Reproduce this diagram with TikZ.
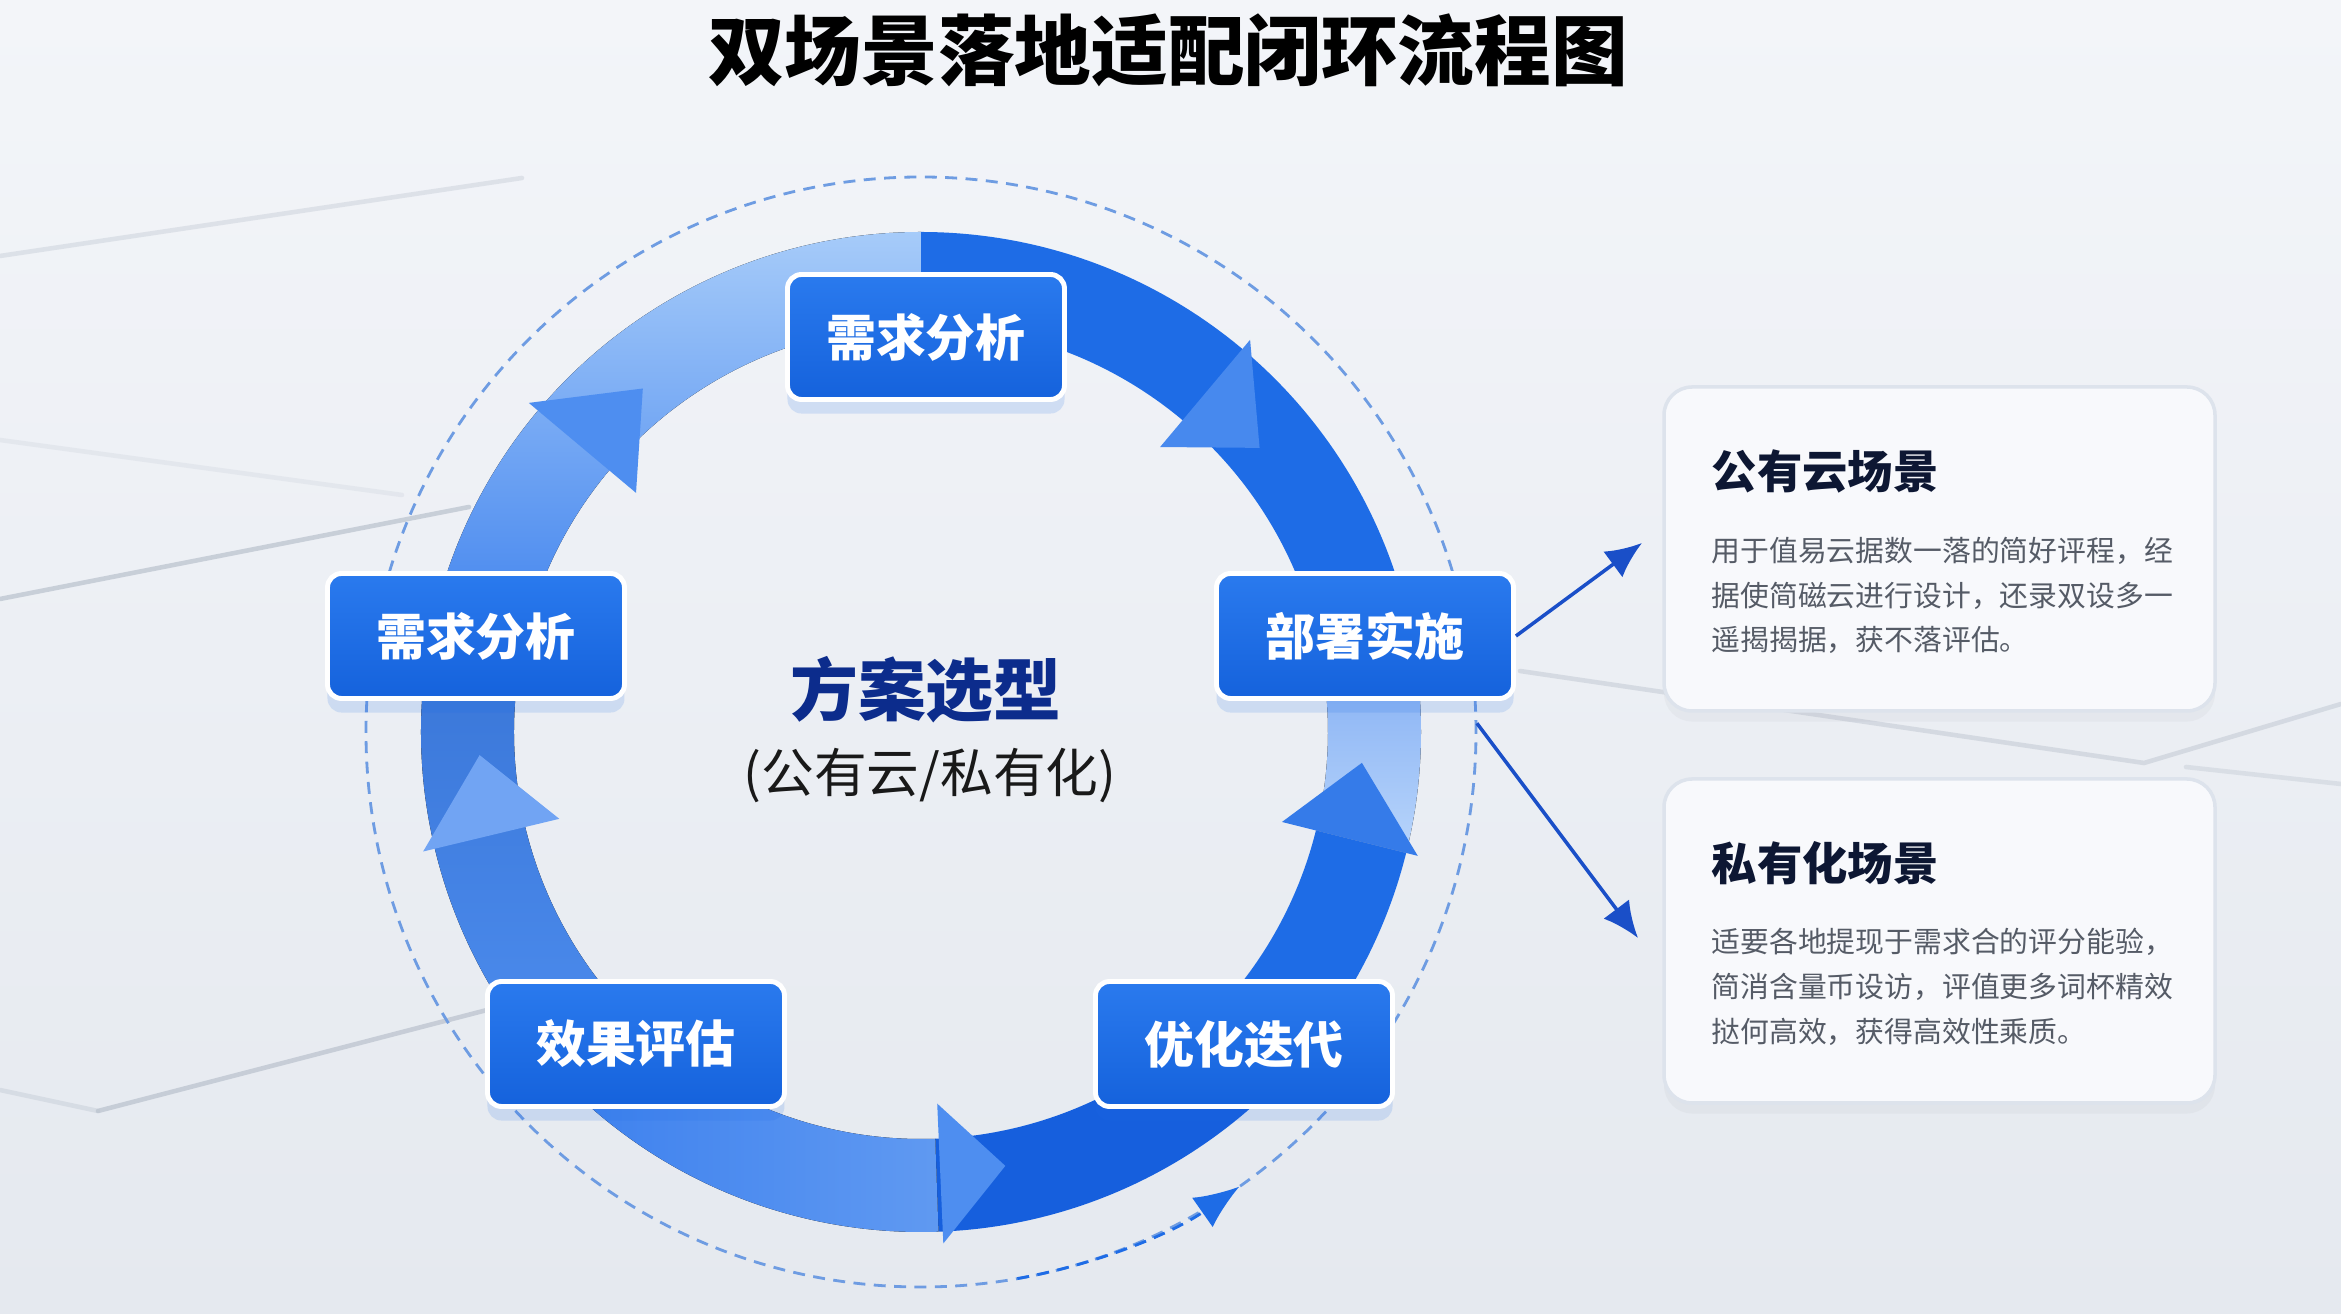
\documentclass[tikz,border=0pt]{standalone}
\usepackage{fontspec}
\newfontfamily\cjk{Noto Sans CJK SC}
\usetikzlibrary{arrows.meta}
\usetikzlibrary{shadows}
\tikzset{>=latex}

\definecolor{bgtop}{HTML}{F3F5F9}
\definecolor{bgbot}{HTML}{E5E9EF}
\definecolor{streakgray}{HTML}{B9C1CD}
\definecolor{ringdark}{HTML}{1E6CE6}
\definecolor{ringdeep}{HTML}{165FDD}
\definecolor{ringmid}{HTML}{3F82EE}
\definecolor{ringlight}{HTML}{A6CBF9}
\definecolor{ringsoft}{HTML}{7EAAF2}
\definecolor{ringpale}{HTML}{B8D5FB}
\definecolor{headblue}{HTML}{4E8EF0}
\definecolor{boxtop}{HTML}{2A7AEE}
\definecolor{boxbot}{HTML}{1562DC}
\definecolor{dashblue}{HTML}{6E9CE2}
\definecolor{linkblue}{HTML}{1A4FC8}
\definecolor{navy}{HTML}{0C2C8C}
\definecolor{inktitle}{HTML}{0D1733}
\definecolor{inkbody}{HTML}{555B66}
\definecolor{cardedge}{HTML}{DDE3EC}
\definecolor{cardfill}{HTML}{F8F9FC}

\tikzset{
  stage/.style={rounded corners=4pt, draw=white, line width=1.4pt,
    top color=boxtop, bottom color=boxbot, text=white,
    font=\cjk\bfseries\fontsize{14.2}{17}\selectfont,
    minimum width=2.97cm, minimum height=1.25cm, inner sep=0pt,
    drop shadow={opacity=0.15, fill=ringdark, shadow xshift=0pt, shadow yshift=-4pt}},
  card/.style={rounded corners=8pt, draw=cardedge, line width=1pt, fill=cardfill,
    minimum width=5.51cm, minimum height=3.24cm, inner sep=0pt,
    drop shadow={opacity=0.06, fill=black!50, shadow xshift=0pt, shadow yshift=-3pt}},
  cardhead/.style={anchor=west, text=inktitle, inner sep=0pt,
    font=\cjk\bfseries\fontsize{12.9}{15}\selectfont},
  cardbody/.style={anchor=north west, text=inkbody, inner sep=0pt, align=left,
    font=\cjk\fontsize{8.2}{12.8}\selectfont},
  link/.style={->, draw=linkblue, line width=1pt, >={Latex[length=3.6mm,width=3.2mm]}},
  streak/.style={draw=streakgray, line width=1.3pt, line cap=round},
  loopdash/.style={draw=dashblue, line width=0.8pt, dash pattern=on 3.4pt off 2.4pt}
}

\begin{document}
\begin{tikzpicture}
  \def\rout{5.0}
  \def\rin{4.07}
  \def\ringpart#1#2{(#1:\rout) arc[start angle=#1,end angle=#2,radius=\rout]
    -- (#2:\rin) arc[start angle=#2,end angle=#1,radius=\rin] -- cycle}

  % background
  \useasboundingbox (-9.21,-5.82) rectangle (14.20,7.32);
  \fill[top color=bgtop, bottom color=bgbot] (-9.21,-5.82) rectangle (14.20,7.32);
  \draw[streak, opacity=0.35] (-9.21,4.76) -- (-3.99,5.54);
  \draw[streak, opacity=0.2] (-9.21,2.92) -- (-5.19,2.37);
  \draw[streak, opacity=0.7] (-9.21,1.33) -- (-4.52,2.25);
  \draw[streak, opacity=0.35] (-9.21,-3.58) -- (-8.23,-3.79);
  \draw[streak, opacity=0.7] (-8.23,-3.79) -- (-4.34,-2.78);
  \draw[streak, opacity=0.45] (5.99,0.61) -- (12.23,-0.31) -- (14.20,0.28);
  \draw[streak, opacity=0.35] (12.65,-0.35) -- (14.20,-0.52);

  % dashed orbit
  \draw[loopdash] (0,0) circle[radius=5.55];
  \draw[loopdash, draw=ringdark, -{Latex[length=4.5mm,width=3.6mm]}] (-80:5.55) arc[start angle=-80,end angle=-55,radius=5.55];

  % ring
  \fill[top color=ringlight, bottom color=ringmid] \ringpart{168}{90};
  \fill[ringdark] \ringpart{90}{12};
  \fill[top color=ringsoft, bottom color=ringpale] \ringpart{12}{-14};
  \fill[ringdark] \ringpart{-14}{-44};
  \fill[ringdeep] \ringpart{-44}{-88};
  \fill[left color=ringmid, right color=headblue!90!white] \ringpart{-88}{-132.5};
  \fill[top color=ringmid!90!black, bottom color=headblue] \ringpart{-132.5}{-192};

  % arrow heads
  \fill[headblue] (140:3.72) -- (129:4.42) -- (140:5.12) -- cycle;
  \fill[headblue!85!ringdark] (50:3.72) -- (40:4.42) -- (50:5.12) -- cycle;
  \fill[ringdark!90!white] (-14:3.72) -- (-4:4.42) -- (-14:5.12) -- cycle;
  \fill[headblue] (-87.5:3.72) -- (-79:4.42) -- (-87.5:5.12) -- cycle;
  \fill[headblue!80!white] (193.5:3.72) -- (183:4.42) -- (193.5:5.12) -- cycle;

  % stages
  \node[stage, minimum width=2.77cm] (needtop) at (0.05,3.95) {需求分析};
  \node[stage] (needleft) at (-4.45,0.96) {需求分析};
  \node[stage] (impl) at (4.44,0.96) {部署实施};
  \node[stage] (evalstage) at (-2.85,-3.12) {效果评估};
  \node[stage] (optim) at (3.23,-3.12) {优化迭代};

  % centre
  \node[text=navy, font=\cjk\bfseries\fontsize{19.3}{23}\selectfont] (plan) at (0.05,0.42) {方案选型};
  \node[text=black!90, font=\cjk\fontsize{15}{18}\selectfont] (plansub) at (0.09,-0.44) {(公有云/私有化)};

  % public cloud card
  \node[card] (pubcard) at (10.185,1.83) {};
  \node[cardhead] (pubhead) at (7.90,2.61) {公有云场景};
  \node[cardbody] (pubbody) at (7.90,1.96)
    {用于值易云据数一落的简好评程，经\\据使简磁云进行设计，还录双设多一\\遥揭揭据，获不落评估。};

  % private card
  \node[card] (pricard) at (10.185,-2.09) {};
  \node[cardhead] (prihead) at (7.90,-1.31) {私有化场景};
  \node[cardbody] (pribody) at (7.90,-1.955)
    {适要各地提现于需求合的评分能验，\\简消含量币设访，评值更多词杯精效\\挞何高效，获得高效性乘质。};

  % links to cards
  \coordinate (pubtip) at (7.21,1.89);
  \coordinate (pritip) at (7.17,-2.06);
  \coordinate (ringexit) at (0.9:5.56);
  \draw[link] (impl.east) -- (pubtip);
  \draw[link] (ringexit) -- (pritip);

  % title
  \node[text=black, font=\cjk\bfseries\fontsize{21.8}{26}\selectfont] (title) at (2.47,6.82) {双场景落地适配闭环流程图};
\end{tikzpicture}
\end{document}
